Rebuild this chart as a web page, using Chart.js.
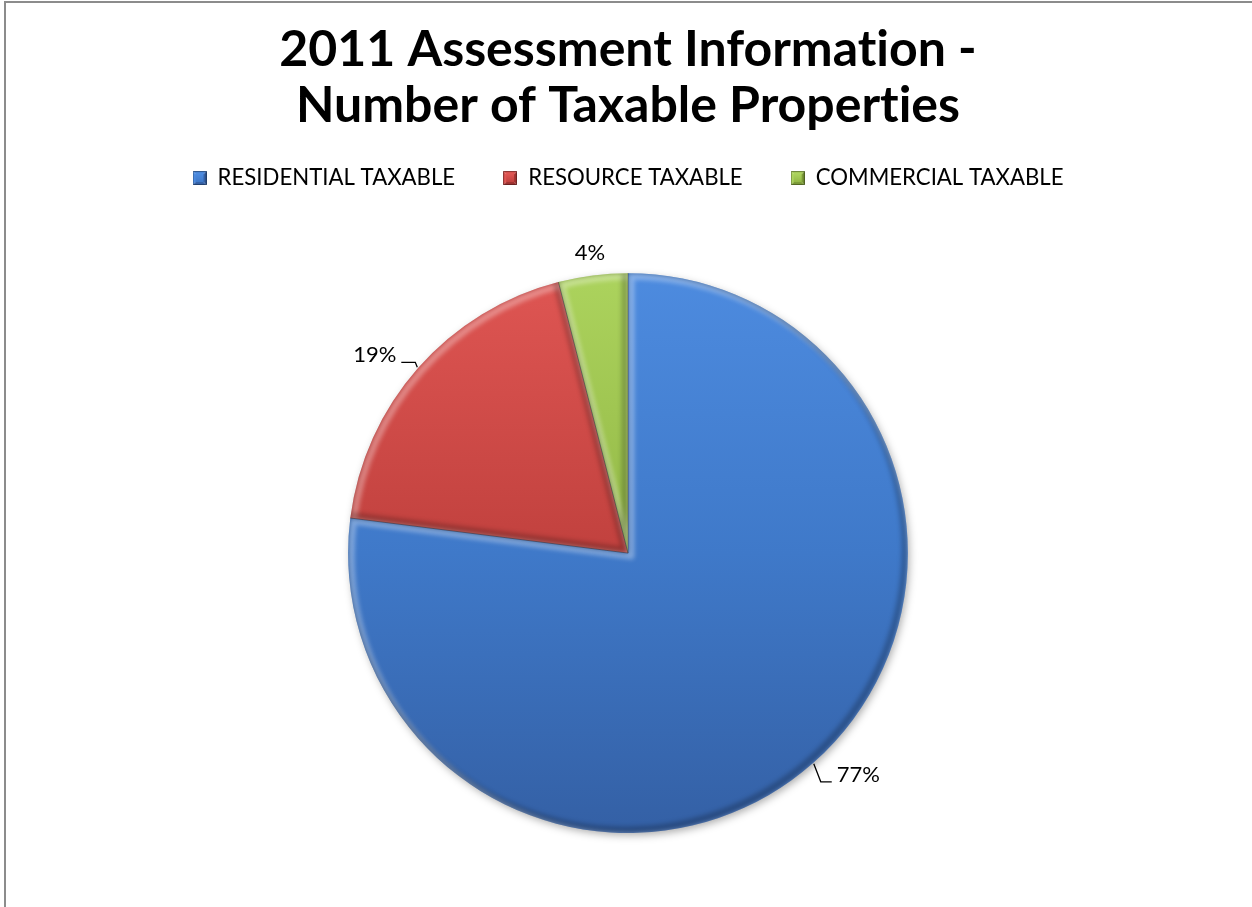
<!DOCTYPE html>
<html>
<head>
<meta charset="utf-8">
<title>2011 Assessment Information - Number of Taxable Properties</title>
<script src="https://cdn.jsdelivr.net/npm/chart.js@4/dist/chart.umd.min.js"></script>
<style>
  html, body { margin: 0; padding: 0; background: #ffffff; }
  #frame { position: absolute; left: 0; top: 0; width: 1252px; height: 907px; overflow: hidden; }
  #frame canvas { position: absolute; left: 0; top: 0; }
  #edge {
    position: absolute; left: 4px; top: 1px; right: -4px; bottom: -4px;
    border-left: 2px solid #8c8c8c; border-top: 2px solid #8c8c8c;
    pointer-events: none;
  }
</style>
</head>
<body>
<div id="frame">
  <canvas id="chart" width="1252" height="907"></canvas>
  <div id="edge"></div>
</div>
<script>
// Number of taxable properties by class, as a share of the total (%)
const categories = ['RESIDENTIAL TAXABLE', 'RESOURCE TAXABLE', 'COMMERCIAL TAXABLE'];
const shares = [77, 19, 4];
const titleLines = ['2011 Assessment Information -', 'Number of Taxable Properties'];

// Top / middle / bottom tones for each slice's vertical shading
const sliceTones = [
  ['#4d8bdf', '#3f79c9', '#3460a5'],
  ['#df5653', '#c1413e', '#9d3230'],
  ['#acd35d', '#93b846', '#7a9936']
];

const FONT = 'Lato, "Open Sans", sans-serif';

function sliceFill(context) {
  const i = context.dataIndex;
  const tones = sliceTones[i];
  const area = context.chart.chartArea;
  if (!area) return tones[1];
  const g = context.chart.ctx.createLinearGradient(0, area.top, 0, area.bottom);
  g.addColorStop(0, tones[0]);
  g.addColorStop(0.5, tones[1]);
  g.addColorStop(1, tones[2]);
  return g;
}

// Small bevelled square used as the legend marker
function bevelSwatch(tones) {
  const s = 14, b = 3;
  const c = document.createElement('canvas');
  c.width = s; c.height = s;
  const g = c.getContext('2d');
  const quad = (pts, fill) => {
    g.beginPath();
    g.moveTo(pts[0][0], pts[0][1]);
    for (let k = 1; k < pts.length; k++) g.lineTo(pts[k][0], pts[k][1]);
    g.closePath();
    g.fillStyle = fill;
    g.fill();
  };
  quad([[0, 0], [s, 0], [s - b, b], [b, b]], tones[0]);
  quad([[0, 0], [b, b], [b, s - b], [0, s]], tones[0]);
  quad([[s, 0], [s, s], [s - b, s - b], [s - b, b]], tones[2]);
  quad([[0, s], [b, s - b], [s - b, s - b], [s, s]], tones[2]);
  const inner = g.createLinearGradient(0, b, 0, s - b);
  inner.addColorStop(0, tones[0]);
  inner.addColorStop(1, tones[1]);
  g.fillStyle = inner;
  g.fillRect(b, b, s - 2 * b, s - 2 * b);
  g.strokeStyle = 'rgba(0,0,0,0.35)';
  g.lineWidth = 1;
  g.strokeRect(0.5, 0.5, s - 1, s - 1);
  return c;
}

// Plain glyphs (no ti/fi ligatures) for all canvas text
const plainText = {
  id: 'plainText',
  beforeDraw(chart) {
    if ('textRendering' in chart.ctx) chart.ctx.textRendering = 'optimizeSpeed';
  }
};

// Soft shadow under the whole pie
const pieShadow = {
  id: 'pieShadow',
  beforeDatasetsDraw(chart) {
    const arc = chart.getDatasetMeta(0).data[0];
    if (!arc) return;
    const {x, y, outerRadius} = arc.getProps(['x', 'y', 'outerRadius'], true);
    const ctx = chart.ctx;
    ctx.save();
    ctx.shadowColor = 'rgba(0,0,0,0.35)';
    ctx.shadowBlur = 9;
    ctx.shadowOffsetX = 2;
    ctx.shadowOffsetY = 3;
    ctx.fillStyle = sliceTones[0][1];
    ctx.beginPath();
    ctx.arc(x, y, outerRadius - 1, 0, Math.PI * 2);
    ctx.fill();
    ctx.restore();
  }
};

// Bevelled rim on every slice: light on edges facing up-left, dark facing down-right
const sliceBevel = {
  id: 'sliceBevel',
  afterDatasetsDraw(chart) {
    const ctx = chart.ctx;
    chart.getDatasetMeta(0).data.forEach((arc) => {
      const {x, y, startAngle, endAngle, outerRadius} =
        arc.getProps(['x', 'y', 'startAngle', 'endAngle', 'outerRadius'], true);
      const path = () => {
        ctx.beginPath();
        ctx.moveTo(x, y);
        ctx.arc(x, y, outerRadius, startAngle, endAngle);
        ctx.closePath();
      };
      ctx.save();
      path();
      ctx.clip();
      ctx.filter = 'blur(2px)';
      ctx.lineJoin = 'round';
      ctx.lineWidth = 7;
      ctx.translate(3, 3);
      path();
      ctx.strokeStyle = 'rgba(255,255,255,0.32)';
      ctx.stroke();
      ctx.translate(-6, -6);
      path();
      ctx.strokeStyle = 'rgba(0,0,0,0.22)';
      ctx.stroke();
      ctx.restore();

      // thin dark seam along the radial edges
      ctx.save();
      ctx.strokeStyle = 'rgba(40,30,30,0.45)';
      ctx.lineWidth = 1;
      ctx.beginPath();
      ctx.moveTo(x + Math.cos(startAngle) * outerRadius, y + Math.sin(startAngle) * outerRadius);
      ctx.lineTo(x, y);
      ctx.stroke();
      ctx.restore();
    });
  }
};

// Percentage labels, with short leader lines where the label sits beside the rim
const sliceLabels = {
  id: 'sliceLabels',
  afterDraw(chart, args, opts) {
    const ctx = chart.ctx;
    const values = chart.data.datasets[0].data;
    ctx.save();
    ctx.font = opts.font;
    ctx.fillStyle = opts.color;
    ctx.strokeStyle = opts.color;
    ctx.lineWidth = 1.3;
    chart.getDatasetMeta(0).data.forEach((arc, i) => {
      const {x, y, startAngle, endAngle, outerRadius} =
        arc.getProps(['x', 'y', 'startAngle', 'endAngle', 'outerRadius'], true);
      const mid = (startAngle + endAngle) / 2;
      const dx = Math.cos(mid), dy = Math.sin(mid);
      const text = values[i] + '%';
      const leader = opts.leaders[i];
      if (!leader) {
        ctx.textAlign = 'center';
        ctx.textBaseline = 'middle';
        ctx.fillText(text, x + dx * (outerRadius + opts.gap), y + dy * (outerRadius + opts.gap));
        return;
      }
      const ax = x + dx * (outerRadius + 1), ay = y + dy * (outerRadius + 1);
      const ex = ax + leader[0], ey = ay + leader[1];
      const side = dx < 0 ? -1 : 1;
      const tx = ex + side * leader[2];
      ctx.beginPath();
      ctx.moveTo(ax, ay);
      ctx.lineTo(ex, ey);
      ctx.lineTo(tx, ey);
      ctx.stroke();
      ctx.textAlign = side < 0 ? 'right' : 'left';
      ctx.textBaseline = 'alphabetic';
      ctx.fillText(text, tx + side * 5, ey);
    });
    ctx.restore();
  }
};

new Chart(document.getElementById('chart'), {
  type: 'pie',
  data: {
    labels: categories,
    datasets: [{
      data: shares,
      backgroundColor: sliceFill,
      borderWidth: 0,
      hoverOffset: 0,
      offset: 0
    }]
  },
  options: {
    responsive: false,
    animation: false,
    events: [],
    layout: { padding: { left: 4, right: 0, top: 0, bottom: 74 } },
    plugins: {
      title: {
        display: true,
        text: titleLines,
        color: '#000000',
        font: { family: FONT, size: 50, weight: 'bold', lineHeight: 1.12 },
        padding: { top: 22, bottom: -15 }
      },
      legend: {
        display: true,
        position: 'top',
        labels: {
          color: '#000000',
          font: { family: FONT, size: 22.2 },
          boxWidth: 14,
          boxHeight: 14,
          padding: 48,
          usePointStyle: true,
          generateLabels(chart) {
            return chart.data.labels.map((label, i) => ({
              text: label,
              fillStyle: sliceTones[i][1],
              strokeStyle: sliceTones[i][2],
              pointStyle: bevelSwatch(sliceTones[i]),
              lineWidth: 0,
              hidden: false,
              index: i
            }));
          }
        }
      },
      subtitle: {
        // spacer between the legend and the pie
        display: true,
        text: '',
        weight: 500,
        font: { size: 1, lineHeight: 1 },
        padding: { top: 73, bottom: 0 }
      },
      tooltip: { enabled: false },
      sliceLabels: {
        font: '22px ' + FONT,
        color: '#000000',
        gap: 23,
        leaders: [[7, 18, 11], [-2, -5, 14], null]
      }
    }
  },
  plugins: [plainText, pieShadow, sliceBevel, sliceLabels]
});
</script>
</body>
</html>
